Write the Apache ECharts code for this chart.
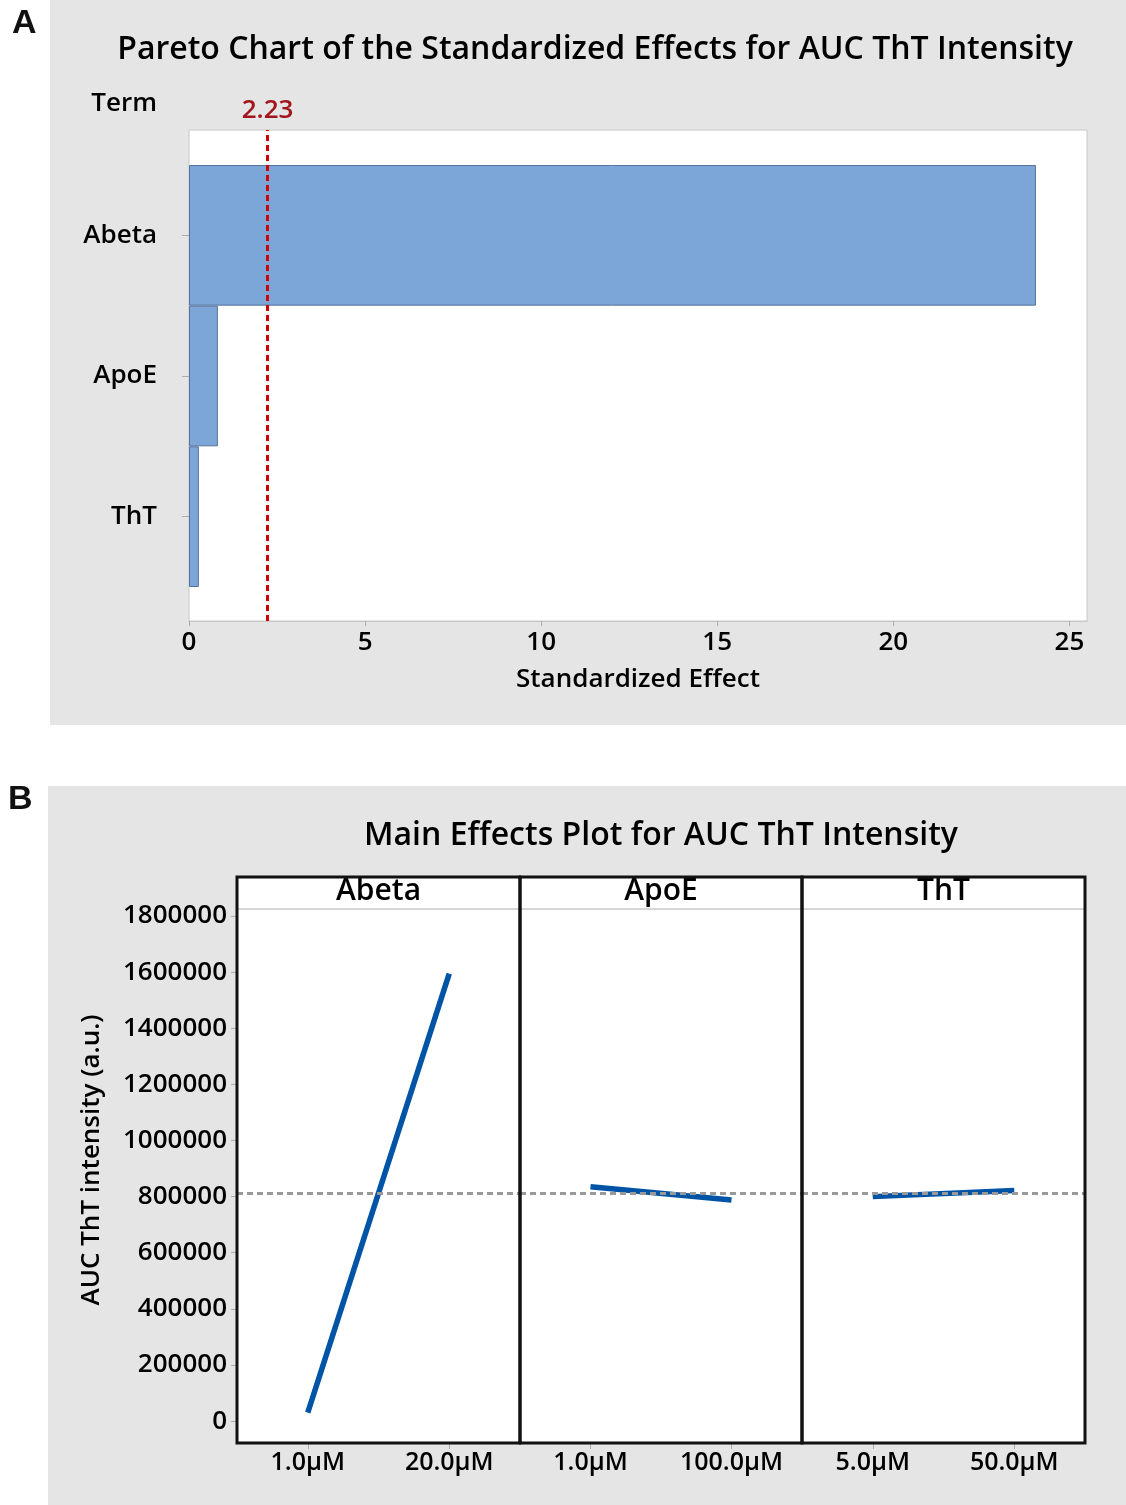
<!DOCTYPE html>
<html><head><meta charset="utf-8">
<script src="https://cdn.jsdelivr.net/npm/echarts@6/dist/echarts.min.js"></script>
<style>html,body{margin:0;padding:0;background:#fff}#c{width:1126px;height:1505px}</style>
</head><body><div id="c"></div>
<script>
// ---- Panel A: Pareto chart data ----
const paretoTerms = ['Abeta', 'ApoE', 'ThT'];
const paretoEffects = [24.05, 0.82, 0.28];
const criticalValue = 2.23;
const paretoTicks = [0, 5, 10, 15, 20, 25];

// ---- Panel B: Main effects data ----
const factors = ['Abeta', 'ApoE', 'ThT'];
const abetaLevels = ['1.0μM', '20.0μM'];
const apoeLevels = ['1.0μM', '100.0μM'];
const thtLevels = ['5.0μM', '50.0μM'];
const abetaMeans = [30000, 1595000];
const apoeMeans = [835000, 788000];
const thtMeans = [800000, 822000];
const grandMean = 812000;
const effectTicks = [0, 200000, 400000, 600000, 800000, 1000000, 1200000, 1400000, 1600000, 1800000];

const FONT = '"Open Sans", "Noto Sans", sans-serif';
const W = 600;
const levelSets = [abetaLevels, apoeLevels, thtLevels];
const meanSets = [abetaMeans, apoeMeans, thtMeans];
const facetLeft = [237, 520, 802];
const facetWidth = [283, 282, 283];
const facetTop = 877, stripH = 32, facetBottom = 1443;

const chart = echarts.init(document.getElementById('c'), null, {renderer: 'canvas'});

const txt = (size) => ({fontSize: size, color: '#000', fontFamily: FONT, fontWeight: W});

const grids = [
  {left: 189, top: 130, width: 898, height: 491, show: true, backgroundColor: '#fff', borderColor: '#c8c8c8', borderWidth: 1},
  {left: 189, top: 165, width: 898, height: 422, show: false}
];
facetLeft.forEach((l, i) => grids.push({left: l, top: facetTop + stripH, width: facetWidth[i], height: facetBottom - facetTop - stripH, show: true, backgroundColor: '#fff', borderWidth: 0}));

const xAxes = [
  {gridIndex: 0, type: 'value', min: 0, max: 25.5,
   axisLine: {show: true, onZero: false, lineStyle: {color: '#c8c8c8'}},
   axisTick: {show: true, length: 5, customValues: paretoTicks, lineStyle: {color: '#aaa'}},
   axisLabel: Object.assign({customValues: paretoTicks, margin: 9}, txt(26)),
   splitLine: {show: false},
   name: 'Standardized Effect', nameLocation: 'middle', nameGap: 46,
   nameTextStyle: txt(26)},
  {gridIndex: 1, type: 'value', min: 0, max: 25.5, show: false}
];
const yAxes = [
  {gridIndex: 0, type: 'value', min: 0, max: 1, show: false},
  {gridIndex: 1, type: 'category', data: paretoTerms, inverse: true,
   axisLine: {show: false},
   axisTick: {show: true, alignWithLabel: true, length: 7, lineStyle: {color: '#aaa'}},
   axisLabel: Object.assign({margin: 32}, txt(26))}
];
levelSets.forEach((lv, i) => {
  xAxes.push({gridIndex: i + 2, type: 'category', data: lv, boundaryGap: true,
    axisLine: {show: false, onZero: false},
    axisTick: {show: true, alignWithLabel: true, length: 6, lineStyle: {color: '#aaa'}},
    axisLabel: Object.assign({margin: 7}, txt(25))});
  yAxes.push({gridIndex: i + 2, type: 'value', min: -78000, max: 1825000,
    axisLine: {show: false}, splitLine: {show: false},
    axisTick: {show: i === 0, length: 6, customValues: effectTicks, lineStyle: {color: '#aaa'}},
    axisLabel: Object.assign({show: i === 0, customValues: effectTicks, margin: 10, formatter: (v) => String(v)}, txt(26))});
});

const series = [
  {type: 'bar', xAxisIndex: 1, yAxisIndex: 1, data: paretoEffects, barCategoryGap: '0%',
   itemStyle: {color: '#7ca6d8', borderColor: '#55739c', borderWidth: 1}, silent: true},
  {type: 'line', xAxisIndex: 0, yAxisIndex: 0, silent: true,
   data: [[criticalValue, 0], {value: [criticalValue, 1], label: {show: true}}],
   symbol: 'circle', symbolSize: 0, showSymbol: true,
   lineStyle: {color: '#d40000', width: 3, type: [6, 4]},
   label: Object.assign({show: false, position: 'top', distance: 6, formatter: () => criticalValue.toFixed(2)}, txt(26), {color: '#a3151c'})}
];
meanSets.forEach((m, i) => {
  series.push({type: 'line', xAxisIndex: i + 2, yAxisIndex: i + 2, data: m, symbol: 'none',
    lineStyle: {color: '#0054a6', width: 5.5}, z: 3, silent: true,
    markLine: {silent: true, symbol: 'none', label: {show: false},
      lineStyle: {color: '#999', width: 3, type: [6, 4]}, data: [{yAxis: grandMean}]}});
});

const gfont = (s) => W + ' ' + s + 'px ' + FONT;
const graphic = [
  {type: 'rect', z: -10, shape: {x: 50, y: 0, width: 1076, height: 725}, style: {fill: '#e5e5e5'}},
  {type: 'rect', z: -10, shape: {x: 48, y: 786, width: 1078, height: 719}, style: {fill: '#e5e5e5'}},
  {type: 'text', x: 12, y: 7, style: {text: 'A', font: 'bold 34px "Liberation Sans", Arial, sans-serif', fill: '#111'}},
  {type: 'text', x: 8, y: 783, style: {text: 'B', font: 'bold 34px "Liberation Sans", Arial, sans-serif', fill: '#111'}},
  {type: 'text', x: 595, y: 50, style: {text: 'Pareto Chart of the Standardized Effects for AUC ThT Intensity', font: gfont(32), fill: '#000', align: 'center', verticalAlign: 'middle'}},
  {type: 'text', x: 157, y: 104, style: {text: 'Term', font: gfont(26), fill: '#000', align: 'right', verticalAlign: 'middle'}},
  {type: 'text', x: 661, y: 836, style: {text: 'Main Effects Plot for AUC ThT Intensity', font: gfont(32), fill: '#000', align: 'center', verticalAlign: 'middle'}},
  {type: 'text', x: 92, y: 1160, rotation: Math.PI / 2, style: {text: 'AUC ThT intensity (a.u.)', font: gfont(26), fill: '#000', align: 'center', verticalAlign: 'middle'}}
];
facetLeft.forEach((l, i) => {
  const w = facetWidth[i];
  graphic.push({type: 'rect', z: -5, shape: {x: l, y: facetTop, width: w, height: stripH}, style: {fill: '#fff'}});
  graphic.push({type: 'line', z: 50, shape: {x1: l, y1: facetTop + stripH, x2: l + w, y2: facetTop + stripH}, style: {stroke: '#d6d6d6', lineWidth: 2}});
  graphic.push({type: 'text', z: 60, x: l + w / 2, y: facetTop + 14, style: {text: factors[i], font: gfont(30), fill: '#000', align: 'center', verticalAlign: 'middle'}});
  graphic.push({type: 'rect', z: 100, shape: {x: l, y: facetTop, width: w, height: facetBottom - facetTop}, style: {fill: 'none', stroke: '#111', lineWidth: 3}});
});

chart.setOption({animation: false, backgroundColor: '#fff', grid: grids, xAxis: xAxes, yAxis: yAxes, series, graphic});
</script></body></html>
